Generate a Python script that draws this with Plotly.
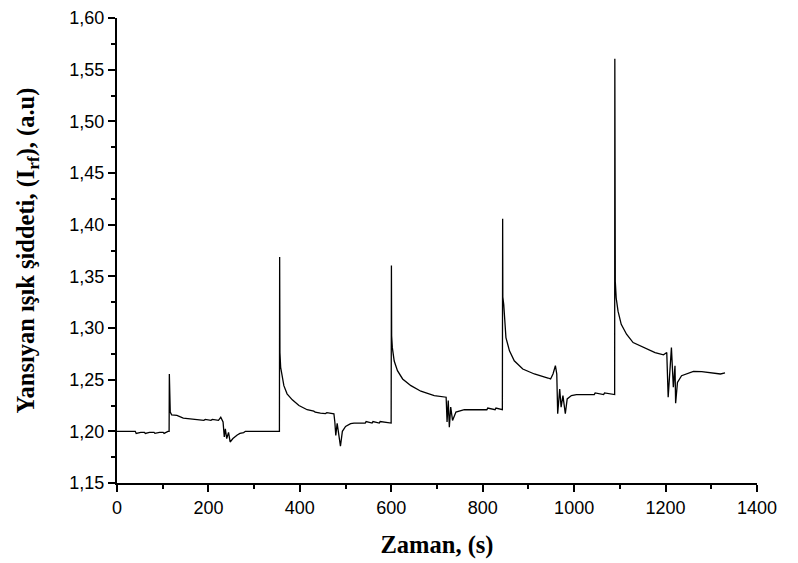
import plotly.graph_objects as go

# Time (s)
zaman = [
    0, 11, 21, 32, 40, 42, 50, 52, 60, 62, 71, 73, 81, 83, 91, 93, 101, 103, 111.5, 114,
    114.5, 115, 116.5, 119.6, 131, 145, 175, 190, 193, 205.5, 208.6, 222, 227, 232, 234.7, 237, 240,
    244, 247.5, 253.6, 263, 269, 277, 281, 355.3,
    355.8, 356.4, 358, 361, 365, 372, 383.5, 398, 416, 430.5, 433.6, 445, 456, 459, 474.5, 476.5, 478.6,
    481.6, 485.7, 488.8, 493, 500, 511, 518.5, 543, 545, 558, 560, 573.7, 575.7, 599.7,
    600.3, 600.8, 602.3, 606.4, 613.5, 624.8, 643, 664.7, 694, 720, 722, 724.6, 727, 730, 734,
    741.4, 759.8, 809, 811, 827, 829, 843,
    843.6, 844, 846, 847.8, 850.8, 858.5, 869, 887.6, 913, 942.8, 948.5, 953.7, 959, 962,
    964, 968.4, 971.5, 975.5, 980.7, 984.8, 994, 1005, 1044, 1046, 1064.5, 1066.5, 1088.6,
    1089, 1089.6, 1090, 1092, 1096, 1103, 1114.6, 1129, 1154.5, 1177, 1195.5, 1202.6, 1205.7,
    1209.8, 1212.8, 1217, 1220.6, 1222, 1226, 1235, 1249.6, 1259, 1261, 1279, 1310, 1320, 1330,
]

# Reflected light intensity (a.u)
siddet = [
    1.200, 1.200, 1.200, 1.200, 1.200, 1.198, 1.199, 1.199, 1.199, 1.198, 1.199, 1.199, 1.199, 1.198, 1.199, 1.199, 1.199, 1.198, 1.200, 1.200,
    1.2555, 1.232, 1.2186, 1.2160, 1.2154, 1.2128, 1.2110, 1.2106, 1.2115, 1.2106, 1.2115, 1.2106, 1.2137, 1.209, 1.1945, 1.2025, 1.193,
    1.199, 1.1897, 1.193, 1.1965, 1.198, 1.1988, 1.200, 1.200,
    1.3686, 1.2762, 1.262, 1.2555, 1.2442, 1.2363, 1.2305, 1.225, 1.2209, 1.2195, 1.2185, 1.2176, 1.2172, 1.2180, 1.217, 1.209, 1.196,
    1.2077, 1.197, 1.1856, 1.200, 1.2048, 1.2074, 1.208, 1.208, 1.2095, 1.208, 1.2095, 1.208, 1.2095, 1.208,
    1.3606, 1.2923, 1.281, 1.268, 1.2587, 1.2507, 1.2442, 1.2388, 1.2346, 1.233, 1.209, 1.2298, 1.204, 1.2234, 1.2106,
    1.2186, 1.2209, 1.2209, 1.2225, 1.2209, 1.2225, 1.2209,
    1.4058, 1.33, 1.3228, 1.3067, 1.2907, 1.2779, 1.2683, 1.2603, 1.2555, 1.2516, 1.2507, 1.2555, 1.2635, 1.2555,
    1.217, 1.241, 1.2234, 1.2346, 1.217, 1.2314, 1.2346, 1.2356, 1.2356, 1.2372, 1.2356, 1.2372, 1.2356,
    1.5606, 1.374, 1.345, 1.329, 1.3163, 1.3036, 1.294, 1.2859, 1.281, 1.2762, 1.274, 1.2762, 1.233,
    1.2587, 1.281, 1.2426, 1.2635, 1.2272, 1.2474, 1.2538, 1.256, 1.2570, 1.2580, 1.2577, 1.2565, 1.2555, 1.2565,
]

x_ticks = [0, 200, 400, 600, 800, 1000, 1200, 1400]
y_ticks = [1.15, 1.20, 1.25, 1.30, 1.35, 1.40, 1.45, 1.50, 1.55, 1.60]

fig = go.Figure()
fig.add_trace(go.Scatter(
    x=zaman, y=siddet, mode="lines",
    line=dict(color="black", width=1.3),
    showlegend=False,
))

tick_font = dict(family="Liberation Sans, Arial", size=18, color="black")
title_font = dict(family="Liberation Serif, Times New Roman", size=24.5, color="black")

fig.update_layout(
    width=798, height=563,
    margin=dict(l=109, r=49, t=10, b=88),
    paper_bgcolor="white", plot_bgcolor="white",
    separators=",.",
    xaxis=dict(
        range=[0, 1400], tickvals=x_ticks, showgrid=False, zeroline=False,
        showline=True, linecolor="black", linewidth=2, mirror=False,
        ticks="outside", ticklen=7, tickwidth=1.5, tickcolor="black",
        minor=dict(ticks="outside", ticklen=4, tickwidth=1.5, tickcolor="black", dtick=100),
        tickfont=tick_font, automargin=False, ticklabeloverflow="allow",
        title=dict(text="<b>Zaman, (s)</b>", font=title_font, standoff=19),
    ),
    yaxis=dict(
        range=[1.15, 1.60], tickvals=y_ticks, tickformat=".2f", showgrid=False, zeroline=False,
        showline=True, linecolor="black", linewidth=2, mirror=False,
        ticks="outside", ticklen=7, tickwidth=1.5, tickcolor="black",
        minor=dict(ticks="outside", ticklen=4, tickwidth=1.5, tickcolor="black", dtick=0.025),
        tickfont=tick_font, automargin=False, ticklabeloverflow="allow",
        title=dict(text="<b>Yansıyan ışık şiddeti, (I<sub>rf</sub>), (a.u)</b>", font=title_font, standoff=28),
    ),
)

fig.write_html("out.html")
